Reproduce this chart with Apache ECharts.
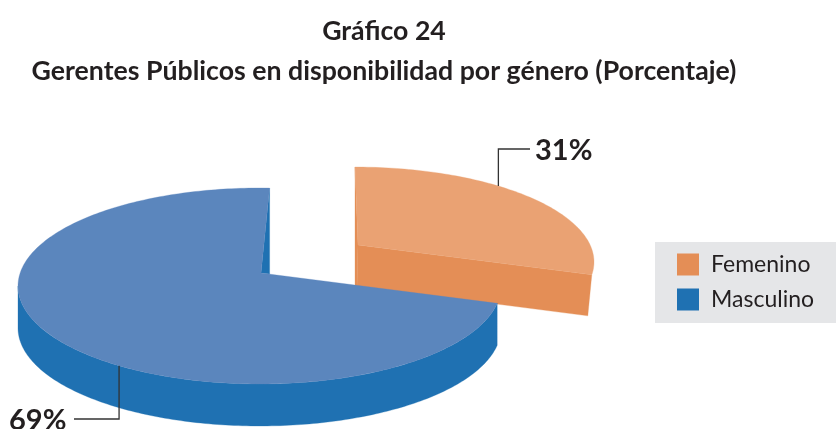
<!DOCTYPE html>
<html><head><meta charset="utf-8">
<style>html,body{margin:0;padding:0;background:#fff}#c{width:836px;height:429px}</style>
<script src="https://cdn.jsdelivr.net/npm/echarts@6/dist/echarts.min.js"></script>
</head><body><div id="c"></div>
<script>
const categories = ['Femenino', 'Masculino'];
const shares = [31, 69];
const titleLines = ['Gráfico 24', 'Gerentes Públicos en disponibilidad por género (Porcentaje)'];

const TOP = { Femenino: '#eaa273', Masculino: '#5b86bd' };
const SIDE = { Femenino: '#e48e56', Masculino: '#1f71b2' };
const FONT = 'Lato';
const INK = '#231f20';
const DEG = Math.PI / 180;
const PERSPECTIVE = 0.245;
const total = shares.reduce((a, b) => a + b, 0);

// foreshortening of the tilted disc: data angle (clockwise from far side) -> ellipse parameter
function warp(theta) {
  const v = Math.cos(theta), u = Math.sin(theta), p = PERSPECTIVE;
  const d = 1 + p * v;
  let t = Math.atan2(u * Math.sqrt(1 - p * p) / d, (v + p) / d);
  if (t < 0) t += 2 * Math.PI;
  return t;
}
const VIEW = {
  Femenino: { cx: 355, cy: 262, rx: 239, ry: 95, apex: [358, 245], rot: 0, depth: 41, leaderFrac: 0.377,
    leader: (p) => [p, [p[0], 149], [530, 149]], labelPos: [535, 151], taper: 4 },
  Masculino: { cx: 259.5, cy: 286, rx: 241.5, ry: 98, apex: [261, 273], rot: 2.4 * DEG, depth: 42, leaderFrac: 0.44,
    leader: (p) => [p, [p[0], 419], [74, 419]], labelPos: [9, 421], taper: 0 }
};
function rim(view, t) {
  return [view.cx + view.rx * Math.sin(t), view.cy - view.ry * Math.cos(t)];
}
function arc(view, a, b, dy) {
  const pts = [], n = Math.max(2, Math.ceil(Math.abs(b - a) / DEG));
  for (let i = 0; i <= n; i++) {
    const p = rim(view, a + (b - a) * i / n);
    pts.push([p[0], p[1] + (dy || 0)]);
  }
  return pts;
}
function poly(points, fill) {
  return { type: 'polygon', shape: { points }, style: { fill, stroke: fill, lineWidth: 0.3 } };
}
function leader(points) {
  return { type: 'polyline', shape: { points }, style: { stroke: '#333333', lineWidth: 1.3, fill: 'none' } };
}
function renderSlice(idx, name) {
  return function (params, api) {
    const value = api.value(0);
    const before = shares.slice(0, idx).reduce((a, b) => a + b, 0);
    const th0 = before / total * 2 * Math.PI;
    const th1 = th0 + value / total * 2 * Math.PI;
    const view = VIEW[name];
    const t0 = view.rot + warp(th0);
    const t1 = view.rot + warp(th1);
    const top = TOP[name], side = SIDE[name];
    const kids = [];
    const start = rim(view, t0), end = rim(view, t1);
    if (name === 'Femenino') {
      // cut face toward the viewer and the thin left face
      const a = view.apex, d = view.depth;
      kids.push(poly([start, a, [a[0] - 1, a[1] + d], [start[0], a[1] + d]], side));
      kids.push(poly([a, end, [end[0] - view.taper, end[1] + d], [a[0] - 1, a[1] + d]], side));
    } else {
      // outer wall and the sliver of the inner wall
      const outer = arc(view, t0, 270 * DEG, 0).concat(arc(view, 270 * DEG, t0, view.depth));
      kids.push(poly(outer, side));
      kids.push(poly([end, view.apex, [end[0], view.apex[1] + 1]], side));
    }
    kids.push(poly([view.apex].concat(arc(view, t0, t1)), top));
    const lp = rim(view, t0 + (t1 - t0) * view.leaderFrac);
    kids.push(leader(view.leader(lp)));
    kids.push({
      type: 'text',
      style: {
        x: view.labelPos[0], y: view.labelPos[1], text: value + '%',
        font: 'bold 29px ' + FONT, fill: INK, textAlign: 'left', textVerticalAlign: 'middle'
      }
    });
    return { type: 'group', children: kids };
  };
}
const chart = echarts.init(document.getElementById('c'), null, { renderer: 'canvas' });
chart.setOption({
  animation: false,
  backgroundColor: '#ffffff',
  title: titleLines.map((text, i) => ({
    text, left: 384, top: i === 0 ? 18 : 58, textAlign: 'center', padding: 0,
    textStyle: { fontFamily: FONT, fontWeight: 'bold', fontSize: 26.7, color: INK }
  })),
  legend: {
    data: categories, orient: 'vertical', left: 655, top: 242,
    backgroundColor: '#e5e6e8', padding: [11, 22, 12, 22],
    itemWidth: 22, itemHeight: 22, itemGap: 12, icon: 'rect', selectedMode: false,
    textStyle: { fontFamily: FONT, fontSize: 23, color: INK, padding: [0, 0, 0, 7] }
  },
  series: categories.map((name, i) => ({
    type: 'custom', name, coordinateSystem: 'none', z: 2 + i, silent: true,
    itemStyle: { color: SIDE[name] },
    renderItem: renderSlice(i, name),
    data: [[shares[i]]]
  }))
});
</script></body></html>
